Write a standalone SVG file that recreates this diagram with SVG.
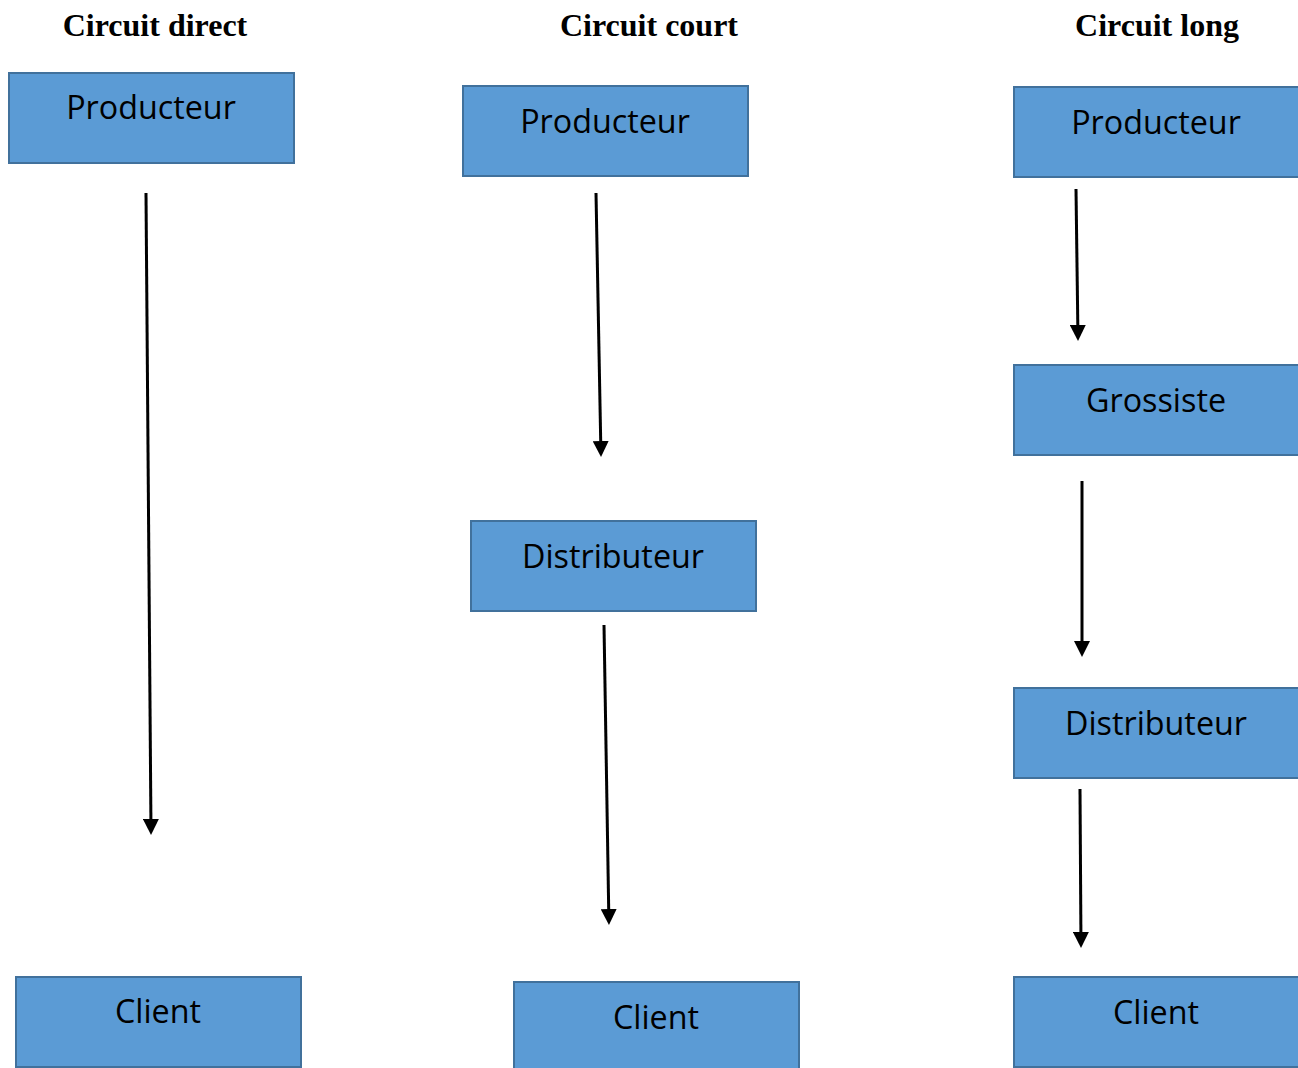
<svg xmlns="http://www.w3.org/2000/svg" width="1298" height="1068" viewBox="0 0 1298 1068">
  <style>
    .box { fill: #5B9BD5; stroke: #41719C; stroke-width: 2; }
    .label { font-family: "Open Sans", "Liberation Sans", sans-serif; font-size: 32.3px; fill: #000; text-anchor: middle; }
    .title { font-family: "Liberation Serif", "Times New Roman", serif; font-size: 32px; font-weight: bold; fill: #000; text-anchor: middle; }
    .arrow { stroke: #000; stroke-width: 3; fill: none; marker-end: url(#head); }
  </style>
  <defs>
    <marker id="head" markerUnits="userSpaceOnUse" viewBox="0 0 16 16" markerWidth="16" markerHeight="16" refX="0" refY="8" orient="auto">
      <path d="M0,0 L16,8 L0,16 Z" fill="#000"/>
    </marker>
  </defs>
  <rect width="1298" height="1068" fill="#fff"/>

  <!-- column titles -->
  <text class="title" x="155" y="36">Circuit direct</text>
  <text class="title" x="649" y="36">Circuit court</text>
  <text class="title" x="1157" y="36">Circuit long</text>

  <!-- direct channel -->
  <g id="direct-producteur">
    <rect class="box" x="9" y="73" width="285" height="90"/>
    <text class="label" x="151" y="119">Producteur</text>
  </g>
  <g id="direct-client">
    <rect class="box" x="16" y="977" width="285" height="90"/>
    <text class="label" x="158" y="1023">Client</text>
  </g>

  <!-- short channel -->
  <g id="court-producteur">
    <rect class="box" x="463" y="86" width="285" height="90"/>
    <text class="label" x="605" y="133">Producteur</text>
  </g>
  <g id="court-distributeur">
    <rect class="box" x="471" y="521" width="285" height="90"/>
    <text class="label" x="613" y="568">Distributeur</text>
  </g>
  <g id="court-client">
    <rect class="box" x="514" y="982" width="285" height="90"/>
    <text class="label" x="656" y="1029">Client</text>
  </g>

  <!-- long channel -->
  <g id="long-producteur">
    <rect class="box" x="1014" y="87" width="290" height="90"/>
    <text class="label" x="1156" y="134">Producteur</text>
  </g>
  <g id="long-grossiste">
    <rect class="box" x="1014" y="365" width="290" height="90"/>
    <text class="label" x="1156" y="412">Grossiste</text>
  </g>
  <g id="long-distributeur">
    <rect class="box" x="1014" y="688" width="290" height="90"/>
    <text class="label" x="1156" y="735">Distributeur</text>
  </g>
  <g id="long-client">
    <rect class="box" x="1014" y="977" width="290" height="90"/>
    <text class="label" x="1156" y="1024">Client</text>
  </g>

  <!-- connectors -->
  <g id="connectors">
    <line class="arrow" x1="146" y1="193" x2="150.9" y2="819"/>
    <line class="arrow" x1="596" y1="193" x2="600.7" y2="441"/>
    <line class="arrow" x1="604" y1="625" x2="608.7" y2="909"/>
    <line class="arrow" x1="1076" y1="189" x2="1077.8" y2="325"/>
    <line class="arrow" x1="1082" y1="481" x2="1082" y2="641"/>
    <line class="arrow" x1="1080" y1="789" x2="1080.9" y2="932"/>
  </g>
</svg>
